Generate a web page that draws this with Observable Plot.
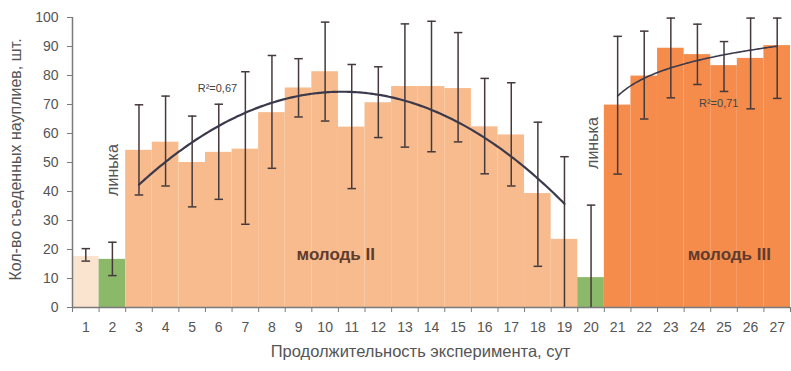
<!DOCTYPE html>
<html>
<head>
<meta charset="utf-8">
<script src="https://cdn.jsdelivr.net/npm/d3@7"></script>
<script src="https://cdn.jsdelivr.net/npm/@observablehq/plot@0.6"></script>
<style>
  html, body { margin: 0; padding: 0; background: #fff; }
  #chart svg { display: block; }
</style>
</head>
<body>
<div id="chart"></div>
<script>
// Days of the experiment
const days = d3.range(1, 28);
// Mean number of eaten nauplii per day
const means = [17.6, 16.6, 54.2, 57.0, 50.0, 53.5, 54.6, 67.2, 75.7, 81.3, 62.2, 70.6, 76.2, 76.2,
  75.5, 62.3, 59.5, 39.3, 23.5, 10.3, 69.8, 79.8, 89.4, 87.2, 83.4, 85.9, 90.3];
// Error bar bounds
const lows = [16.0, 11.0, 38.8, 41.9, 34.7, 37.3, 28.7, 48.0, 65.7, 64.3, 41.0, 58.6, 55.3, 53.7,
  57.1, 46.1, 41.9, 14.2, 0, 0, 46.0, 65.0, 72.3, 76.9, 74.5, 68.5, 72.1];
const highs = [20.3, 22.5, 69.9, 72.9, 66.0, 70.1, 81.3, 86.9, 85.8, 98.4, 83.8, 83.0, 97.8, 98.7,
  94.8, 79.0, 77.5, 63.9, 52.0, 35.3, 93.5, 95.3, 99.8, 97.7, 91.7, 99.8, 99.8];
// Development stage of each day
const stages = ["молодь I", "линька", ...Array(17).fill("молодь II"), "линька", ...Array(7).fill("молодь III")];
const stageNames = ["молодь I", "линька", "молодь II", "молодь III"];
const stageColors = ["#fbe4cf", "#8cb86a", "#f8bb8d", "#f58c4c"];
const yTicks = d3.range(0, 101, 10);

const rows = days.map((d, i) => ({day: d, mean: means[i], lo: lows[i], hi: highs[i], stage: stages[i]}));

// Quadratic least-squares trend over молодь II
function quadFit(pts) {
  const s = Array(5).fill(0), sy = [0, 0, 0];
  for (const [x, y] of pts) {
    for (let k = 0; k < 5; k++) s[k] += x ** k;
    for (let k = 0; k < 3; k++) sy[k] += y * x ** k;
  }
  const A = [[s[0], s[1], s[2], sy[0]], [s[1], s[2], s[3], sy[1]], [s[2], s[3], s[4], sy[2]]];
  for (let i = 0; i < 3; i++) {
    for (let j = i + 1; j < 3; j++) {
      const f = A[j][i] / A[i][i];
      for (let k = i; k < 4; k++) A[j][k] -= f * A[i][k];
    }
  }
  const c = [0, 0, 0];
  for (let i = 2; i >= 0; i--) {
    let v = A[i][3];
    for (let k = i + 1; k < 3; k++) v -= A[i][k] * c[k];
    c[i] = v / A[i][i];
  }
  return x => c[0] + c[1] * x + c[2] * x * x;
}
// Logarithmic trend over молодь III (days indexed from 1 within the stage)
function logFit(pts) {
  const xs = pts.map(p => Math.log(p[0])), ys = pts.map(p => p[1]);
  const mx = d3.mean(xs), my = d3.mean(ys);
  const b = d3.sum(xs, (x, i) => (x - mx) * (ys[i] - my)) / d3.sum(xs, x => (x - mx) ** 2);
  const a = my - b * mx;
  return x => a + b * Math.log(x);
}

const seg2 = rows.filter(r => r.stage === "молодь II");
const seg3 = rows.filter(r => r.stage === "молодь III");
const f2 = quadFit(seg2.map(r => [r.day, r.mean]));
const start3 = seg3[0].day - 1;
const f3 = logFit(seg3.map(r => [r.day - start3, r.mean]));
const trend2 = d3.range(seg2[0].day, seg2[seg2.length - 1].day + 0.001, 0.1).map(x => ({x, y: f2(x)}));
const trend3 = d3.range(seg3[0].day, seg3[seg3.length - 1].day + 0.001, 0.1).map(x => ({x, y: f3(x - start3)}));

const ink = "#45393b";
const axisGray = "#7a7a7a";
const textGray = "#555";

const chart = Plot.plot({
  width: 791,
  height: 371,
  marginLeft: 72,
  marginRight: 1,
  marginTop: 17,
  marginBottom: 64,
  style: {fontFamily: "Liberation Sans, Arial, sans-serif", background: "#fff"},
  x: {type: "linear", domain: [0.5, 27.5]},
  y: {domain: [0, 100]},
  color: {domain: stageNames, range: stageColors},
  marks: [
    Plot.rectY(rows, {x1: d => d.day - 0.5, x2: d => d.day + 0.5, y1: 0, y2: "mean", fill: "stage"}),
    Plot.ruleY([0], {stroke: axisGray, strokeWidth: 1.5}),
    Plot.ruleX([0.5], {y1: 0, y2: 100, stroke: axisGray, strokeWidth: 1.5}),
    Plot.axisY({ticks: yTicks, tickSize: 5, tickPadding: 9, fontSize: 14, fill: textGray, stroke: axisGray,
      label: null}),
    Plot.text(["Кол-во съеденных науплиев, шт."], {frameAnchor: "left", textAnchor: "middle", dx: -57, dy: -3,
      rotate: -90, fontSize: 16, fill: textGray}),
    Plot.axisX({ticks: d3.range(0.5, 28, 1), tickFormat: () => "", tickSize: 5, stroke: axisGray, label: null}),
    Plot.axisX({ticks: days, tickSize: 0, tickPadding: 15, fontSize: 14, fill: textGray, label: null, tickFormat: d => d}),
    Plot.text(["Продолжительность эксперимента, сут"], {frameAnchor: "bottom", dx: -11, dy: 49, fontSize: 16.5, fill: textGray}),
    // error bars
    Plot.ruleX(rows, {x: "day", y1: "lo", y2: "hi", stroke: ink, strokeWidth: 1.5}),
    Plot.link(rows, {x1: d => d.day - 0.16, x2: d => d.day + 0.16, y1: "hi", y2: "hi", stroke: ink, strokeWidth: 1.5}),
    Plot.link(rows.filter(d => d.lo > 0), {x1: d => d.day - 0.16, x2: d => d.day + 0.16, y1: "lo", y2: "lo", stroke: ink, strokeWidth: 1.5}),
    // trend lines
    Plot.line(trend2, {x: "x", y: "y", stroke: "#3b3a4c", strokeWidth: 2.2, curve: "natural"}),
    Plot.line(trend3, {x: "x", y: "y", stroke: "#3b3a4c", strokeWidth: 1.6, curve: "natural"}),
    Plot.text(["R²=0,67"], {x: 5.95, y: 75.5, fontSize: 11, fill: "#444"}),
    Plot.text(["R²=0,71"], {x: 24.8, y: 70.4, fontSize: 11, fill: "#444"}),
    // stage labels
    Plot.text(["линька"], {x: 2.0, y: 47.4, rotate: -90, fontSize: 16, fill: textGray}),
    Plot.text(["линька"], {x: 20.05, y: 56.7, rotate: -90, fontSize: 16, fill: textGray}),
    Plot.text(["молодь II"], {x: 10.4, y: 18.3, fontSize: 17, fontWeight: "bold", fill: "#5e3c2e"}),
    Plot.text(["молодь III"], {x: 25.2, y: 18.3, fontSize: 17, fontWeight: "bold", fill: "#5e3c2e"})
  ]
});
document.getElementById("chart").append(chart);
</script>
</body>
</html>
